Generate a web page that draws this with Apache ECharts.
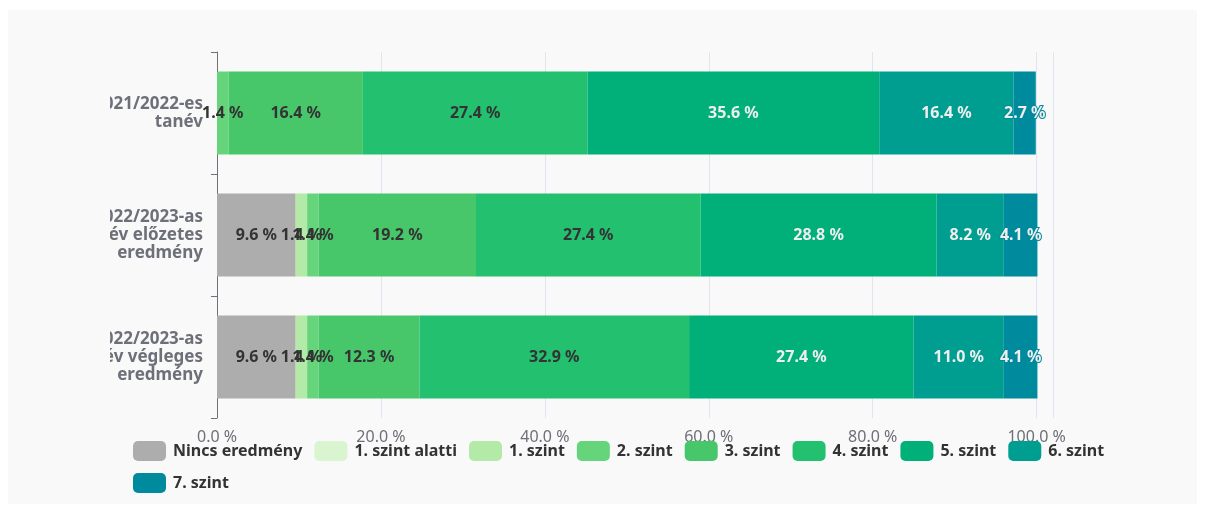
<!DOCTYPE html>
<html>
<head>
<meta charset="utf-8">
<script src="https://cdn.jsdelivr.net/npm/echarts@6/dist/echarts.min.js"></script>
<style>
  html, body { margin: 0; padding: 0; background: #ffffff; }
  #panel { position: absolute; left: 8px; top: 10px; width: 1189px; height: 494px; background: #f9f9f9; }
  #chart { position: absolute; left: 110px; top: 10px; width: 1087px; height: 494px; }
</style>
</head>
<body>
<div id="panel"></div>
<div id="chart"></div>
<script>
const categories = [
  "2021/2022-es\ntanév",
  "2022/2023-as\ntanév előzetes\neredmény",
  "2022/2023-as\ntanév végleges\neredmény"
];
const seriesNames = ["Nincs eredmény", "1. szint alatti", "1. szint", "2. szint", "3. szint", "4. szint", "5. szint", "6. szint", "7. szint"];
const seriesColors = ["#adadad", "#d9f5d0", "#b4eaa8", "#66d47a", "#48c76a", "#22c06f", "#00b078", "#009e90", "#008a9e"];
const nincs      = [0, 9.6, 9.6];
const alatti     = [0, 0, 0];
const szint1     = [0, 1.4, 1.4];
const szint2     = [1.4, 1.4, 1.4];
const szint3     = [16.4, 19.2, 12.3];
const szint4     = [27.4, 27.4, 32.9];
const szint5     = [35.6, 28.8, 27.4];
const szint6     = [16.4, 8.2, 11.0];
const szint7     = [2.7, 4.1, 4.1];
const seriesValues = [nincs, alatti, szint1, szint2, szint3, szint4, szint5, szint6, szint7];

const FONT = "Noto Sans";
const chart = echarts.init(document.getElementById('chart'), null, { renderer: 'canvas' });
chart.setOption({
  animation: false,
  textStyle: { fontFamily: FONT },
  grid: { left: 107, right: 144, top: 42, bottom: 86, containLabel: false, outerBoundsMode: 'none' },
  legend: {
    left: 23, top: 431, width: 1060, padding: 0,
    itemWidth: 33, itemHeight: 20, itemGap: 12,
    textStyle: { fontFamily: FONT, fontSize: 16, fontWeight: 'bold', color: '#333', padding: [0, 0, 0, 2] },
    data: seriesNames
  },
  xAxis: {
    type: 'value', min: 0, max: 102, interval: 20,
    axisLine: { show: false }, axisTick: { show: false },
    splitLine: { show: true, lineStyle: { color: '#e0e6f1' } },
    axisLabel: {
      showMaxLabel: false,
      fontFamily: FONT, fontSize: 16, color: '#6e7079', margin: 11,
      formatter: v => v.toFixed(1) + ' %'
    }
  },
  yAxis: {
    type: 'category', inverse: true, data: categories,
    axisLine: { show: true, lineStyle: { color: '#6e7079' } },
    axisTick: { show: true, length: 6 },
    axisLabel: { fontFamily: FONT, fontSize: 17, fontWeight: 'bold', color: '#6e7079', margin: 14, lineHeight: 18 }
  },
  series: seriesNames.map((name, i) => ({
    name: name, type: 'bar', stack: 'total', barWidth: '68%',
    itemStyle: { color: seriesColors[i] },
    label: {
      show: true, position: 'inside',
      fontFamily: FONT, fontSize: 16, fontWeight: 'bold',
      formatter: p => p.value > 0 ? p.value.toFixed(1) + ' %' : ''
    },
    data: seriesValues[i]
  }))
});
</script>
</body>
</html>
